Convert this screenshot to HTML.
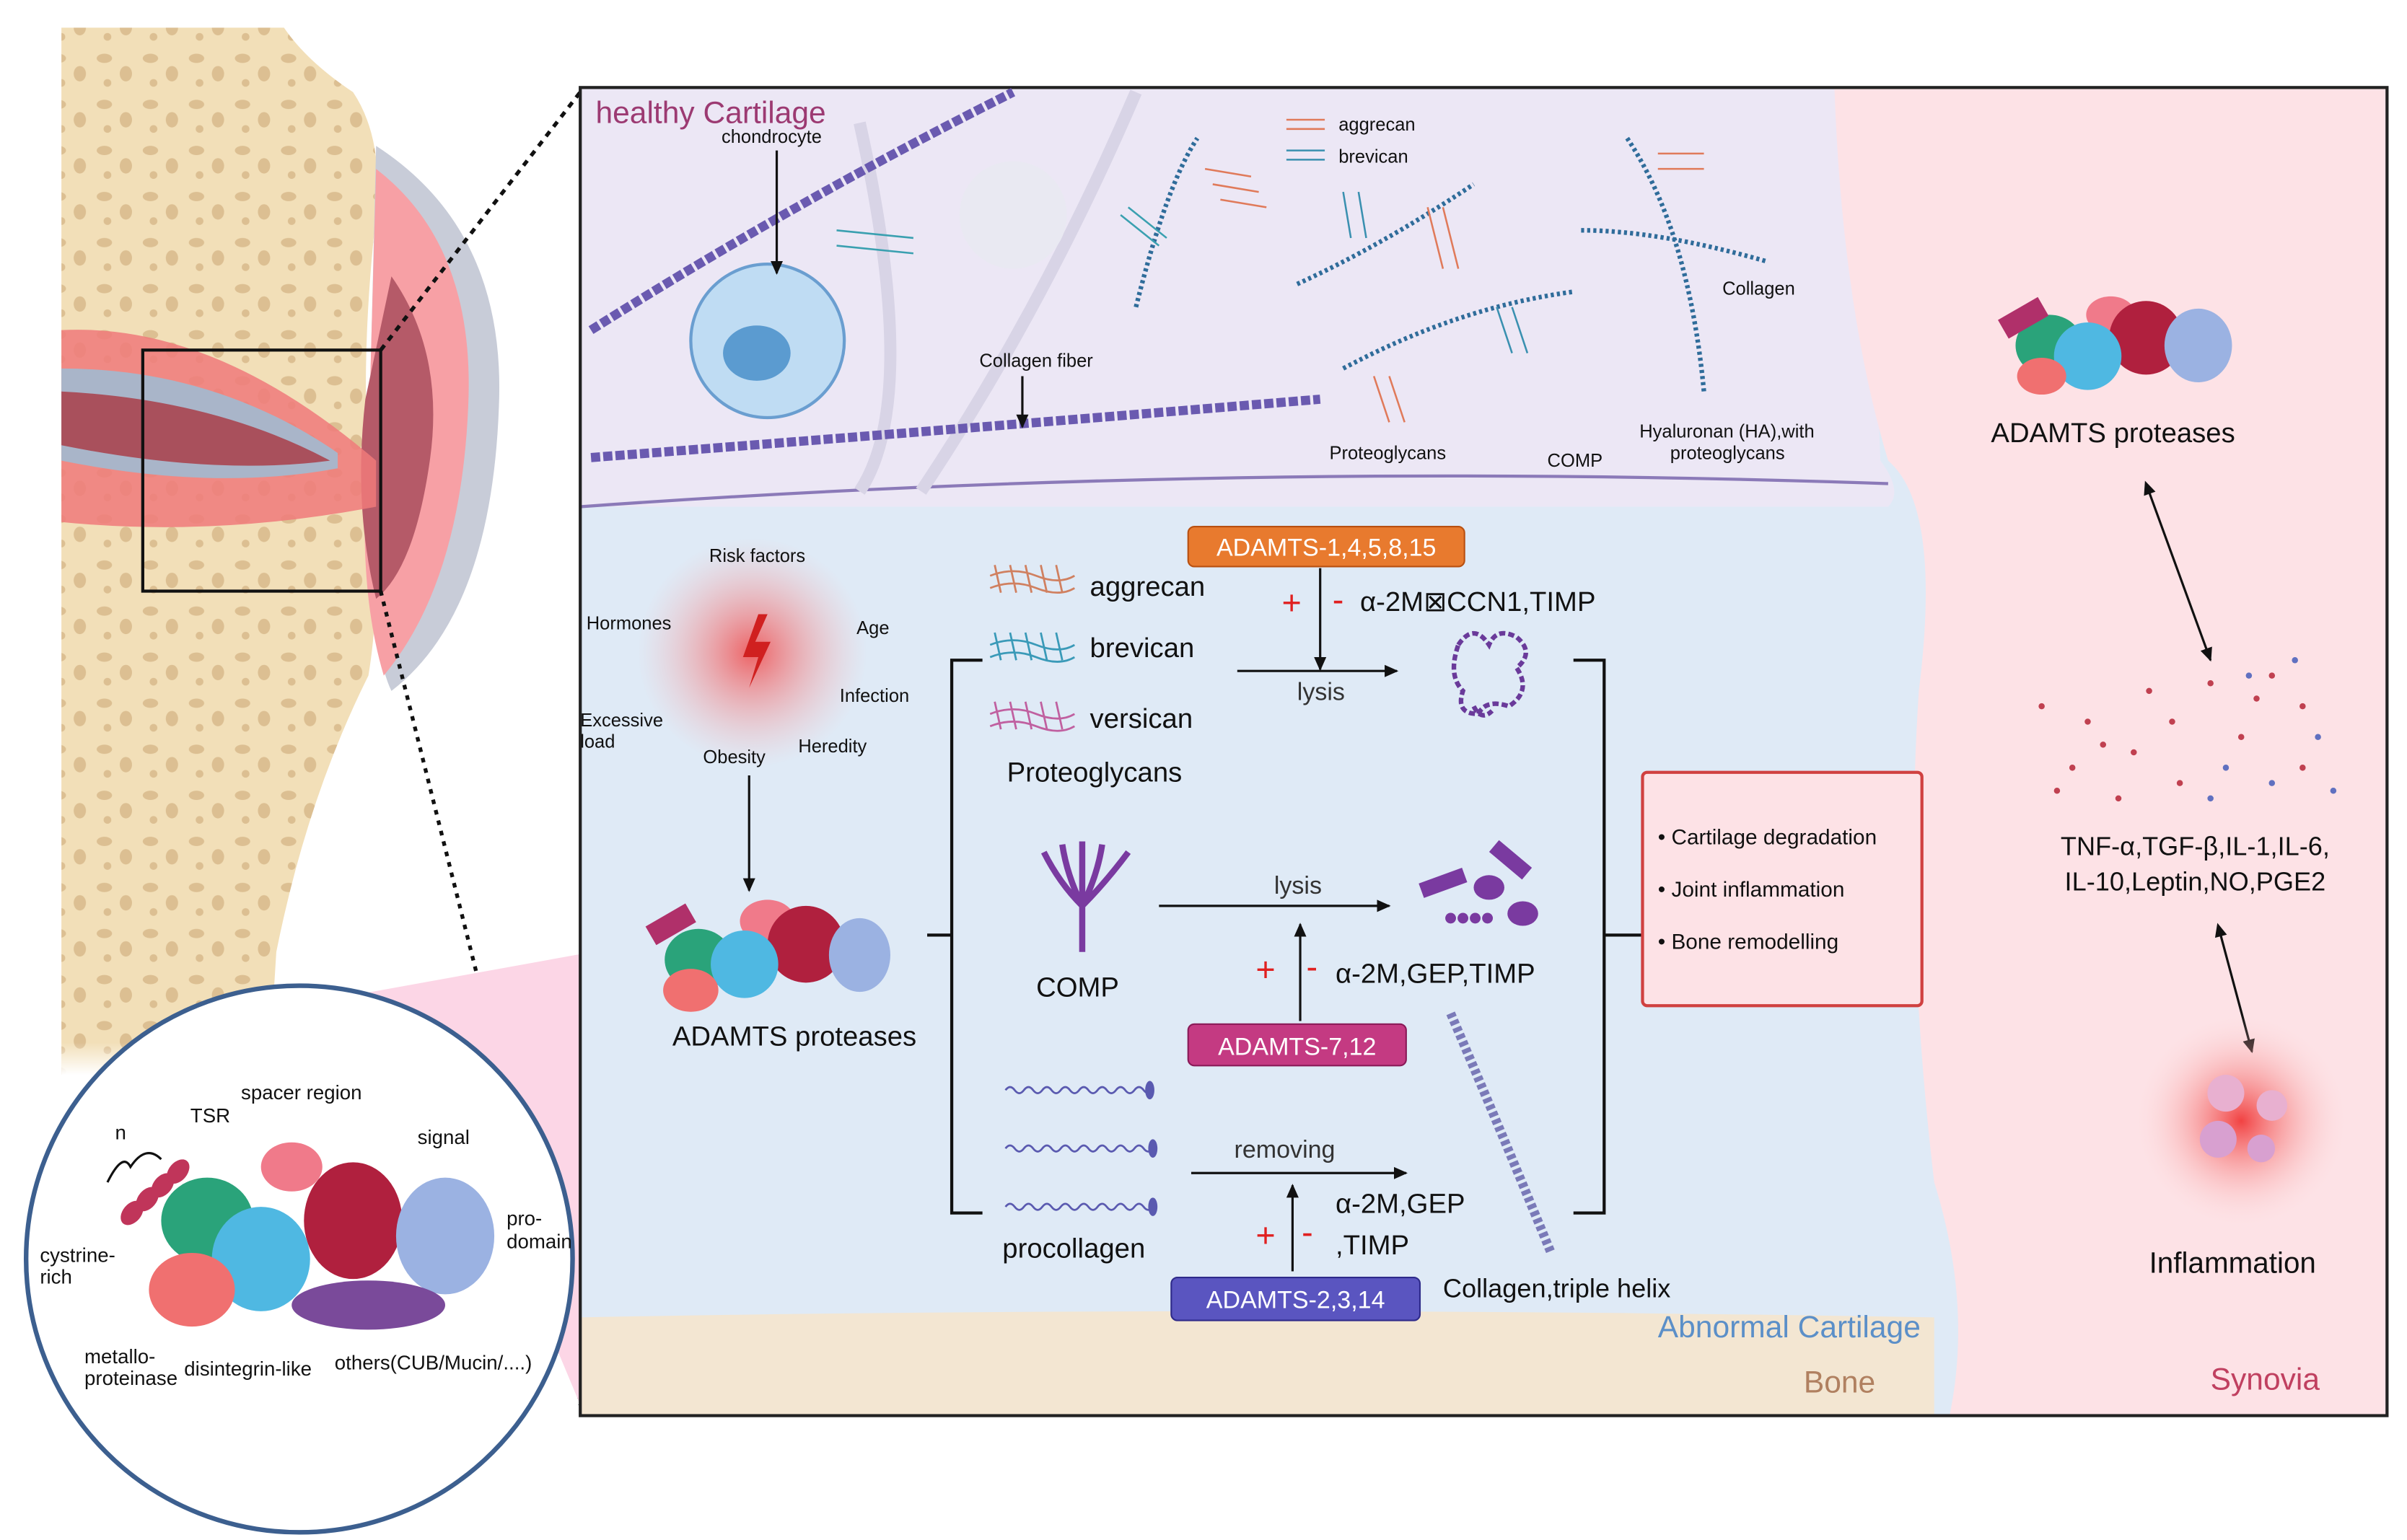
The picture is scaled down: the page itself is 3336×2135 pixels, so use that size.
<!DOCTYPE html>
<html><head><meta charset="utf-8"><style>
html,body{margin:0;padding:0;background:#fff}
svg{display:block}
text{font-family:"Liberation Sans",sans-serif}
</style></head><body>
<svg width="3336" height="2135" viewBox="0 0 1568 1003" preserveAspectRatio="none" xmlns="http://www.w3.org/2000/svg">
<defs>
<radialGradient id="rf" cx="50%" cy="50%" r="50%"><stop offset="0" stop-color="#f04040" stop-opacity="0.8"/><stop offset="1" stop-color="#f8b0b0" stop-opacity="0"/></radialGradient>
<radialGradient id="inf" cx="50%" cy="50%" r="50%"><stop offset="0" stop-color="#f03030" stop-opacity="0.9"/><stop offset="1" stop-color="#fde0e0" stop-opacity="0"/></radialGradient>
<linearGradient id="fade" x1="0" y1="0" x2="0" y2="1"><stop offset="0.85" stop-color="#fff" stop-opacity="0"/><stop offset="1" stop-color="#fff" stop-opacity="1"/></linearGradient>
<pattern id="bone" width="30" height="30" patternUnits="userSpaceOnUse"><rect width="30" height="30" fill="#f2dfb8"/><ellipse cx="8" cy="8" rx="5" ry="3" fill="#dcbf92"/><ellipse cx="22" cy="18" rx="4" ry="5" fill="#dcbf92"/><circle cx="10" cy="24" r="2.5" fill="#dcbf92"/></pattern>
<marker id="ah" markerWidth="10" markerHeight="10" refX="8" refY="5" orient="auto" markerUnits="userSpaceOnUse"><path d="M0 1 L9 5 L0 9 Z" fill="#111"/></marker>
<marker id="as" markerWidth="10" markerHeight="10" refX="2" refY="5" orient="auto" markerUnits="userSpaceOnUse"><path d="M9 1 L0 5 L9 9 Z" fill="#111"/></marker>
</defs>
<!-- left bone -->
<path d="M40 18 L185 18 Q200 40 230 60 Q250 90 245 140 Q235 230 240 300 Q250 380 240 440 Q200 520 180 620 L175 700 L40 700 Z" fill="url(#bone)"/>
<rect x="40" y="560" width="200" height="140" fill="url(#fade)"/>
<path d="M245 95 Q330 150 325 265 Q320 400 255 450 Q240 420 240 300 Z" fill="#c8ccd8"/>
<path d="M245 110 Q310 160 305 265 Q300 380 250 440 Q232 380 240 290 Z" fill="#f7a0a5"/>
<path d="M255 180 Q290 230 280 300 Q270 370 245 390 Q230 330 238 260 Z" fill="#b55a68"/>
<path d="M40 215 Q140 210 245 300 L245 330 Q140 350 40 340 Z" fill="#f07a7a" opacity="0.85"/>
<path d="M40 240 Q140 240 220 295 L220 305 Q140 320 40 300 Z" fill="#a9b5c9"/>
<path d="M40 255 Q140 260 215 300 Q140 310 40 290 Z" fill="#a9505c"/>
<rect x="93" y="228" width="155" height="157" fill="none" stroke="#111" stroke-width="2"/>
<line x1="248" y1="228" x2="378" y2="60" stroke="#111" stroke-width="2.5" stroke-dasharray="4,4"/>
<line x1="248" y1="385" x2="312" y2="640" stroke="#111" stroke-width="2.5" stroke-dasharray="3,4"/>
<line x1="373" y1="880" x2="378" y2="915" stroke="#111" stroke-width="2.5" stroke-dasharray="3,4"/>
<polygon points="220,650 430,612 378,915 330,800" fill="#fcd6e6"/>
<circle cx="195" cy="820" r="178" fill="#fff" stroke="#3c5f8f" stroke-width="3"/>
<g>
<g fill="#c0355a"><ellipse cx="86" cy="790" rx="6" ry="9" transform="rotate(40 86 790)"/><ellipse cx="96" cy="781" rx="6" ry="9" transform="rotate(40 96 781)"/><ellipse cx="106" cy="772" rx="6" ry="9" transform="rotate(40 106 772)"/><ellipse cx="116" cy="763" rx="6" ry="9" transform="rotate(40 116 763)"/></g>
<path d="M70 770 Q80 750 85 760 Q95 745 105 755" fill="none" stroke="#111" stroke-width="1.5"/>
<ellipse cx="135" cy="795" rx="30" ry="28" fill="#2aa37a"/>
<ellipse cx="190" cy="760" rx="20" ry="16" fill="#f07a8a"/>
<ellipse cx="230" cy="795" rx="32" ry="38" fill="#b0203e"/>
<ellipse cx="290" cy="805" rx="32" ry="38" fill="#9bb2e2"/>
<ellipse cx="240" cy="850" rx="50" ry="16" fill="#7a4a9a"/>
<ellipse cx="170" cy="820" rx="32" ry="34" fill="#4fb8e2"/>
<ellipse cx="125" cy="840" rx="28" ry="24" fill="#f07070"/>
</g>
<g font-size="13" fill="#111">
<text x="157" y="716">spacer region</text><text x="124" y="731">TSR</text><text x="272" y="745">signal</text>
<text x="330" y="798">pro-</text><text x="330" y="813">domain</text>
<text x="26" y="822">cystrine-</text><text x="26" y="836">rich</text>
<text x="55" y="888">metallo-</text><text x="55" y="902">proteinase</text><text x="120" y="896">disintegrin-like</text><text x="218" y="892">others(CUB/Mucin/....)</text>
<text x="75" y="742">n</text>
</g>
<!-- main frame regions -->
<rect x="378" y="57" width="1177" height="865" fill="#dfeaf6"/>
<path d="M378 57 L1230 57 Q1220 200 1225 300 Q1240 320 1230 330 L378 330 Z" fill="#ece7f5"/>
<path d="M378 330 Q800 300 1230 315" fill="none" stroke="#8b7ab8" stroke-width="2"/>
<path d="M378 858 Q800 850 1260 858 L1260 922 L378 922 Z" fill="#f3e6d2"/>
<path d="M1195 57 L1555 57 L1555 922 L1270 922 Q1285 850 1260 770 Q1240 600 1250 450 Q1265 330 1230 300 Q1200 200 1195 57 Z" fill="#fde2e6"/>
<rect x="378" y="57" width="1177" height="865" fill="none" stroke="#222" stroke-width="2"/>
<!-- healthy cartilage decorations -->
<path d="M560 80 Q600 260 560 320" stroke="#d8d4e6" stroke-width="8" fill="none"/>
<path d="M600 320 Q680 200 740 60" stroke="#d8d4e6" stroke-width="8" fill="none"/>
<path d="M385 215 Q520 130 660 60" stroke="#6a5ab0" stroke-width="6" stroke-dasharray="6,2" fill="none"/>
<path d="M385 298 Q620 280 860 260" stroke="#6a5ab0" stroke-width="6" stroke-dasharray="6,2" fill="none"/>
<circle cx="500" cy="222" r="50" fill="#bfdcf3" stroke="#6a9ed0" stroke-width="2"/>
<ellipse cx="493" cy="230" rx="22" ry="18" fill="#5b9bd0"/>
<circle cx="660" cy="140" r="35" fill="#e9e9f2"/>
<path d="M740 200 Q760 120 780 90" stroke="#2f6c9a" stroke-width="3" stroke-dasharray="2,2" fill="none"/>
<path d="M845 185 Q900 160 960 120" stroke="#2f6c9a" stroke-width="3" stroke-dasharray="2,2" fill="none"/>
<path d="M875 240 Q950 200 1025 190" stroke="#2f6c9a" stroke-width="3" stroke-dasharray="2,2" fill="none"/>
<path d="M1060 90 Q1100 150 1110 255 M1030 150 Q1080 150 1150 170" stroke="#2f6c9a" stroke-width="3" stroke-dasharray="2,2" fill="none"/>
<g stroke-width="1.2" fill="none">
<path d="M785 110 l30 5 M790 120 l30 5 M795 130 l30 5" stroke="#e07a5a"/>
<path d="M730 140 l25 20 M735 135 l25 20" stroke="#3aa0b0"/>
<path d="M930 135 l10 40 M940 135 l10 40" stroke="#e07a5a"/>
<path d="M875 125 l5 30 M885 125 l5 30" stroke="#3a90b0"/>
<path d="M1080 100 l30 0 M1080 110 l30 0" stroke="#e07a5a"/>
<path d="M975 200 l10 30 M985 200 l10 30" stroke="#3a90b0"/>
<path d="M895 245 l10 30 M905 245 l10 30" stroke="#e07a5a"/>
<path d="M545 150 l50 5 M545 160 l50 5" stroke="#3aa0b0"/>
<path d="M838 78 l25 0 M838 84 l25 0" stroke="#e07a5a"/><path d="M838 98 l25 0 M838 104 l25 0" stroke="#3a90b0"/>
</g>
<text x="388" y="80" font-size="20" fill="#9c3a72">healthy Cartilage</text>
<g font-size="12" fill="#111">
<text x="470" y="93">chondrocyte</text><text x="638" y="239">Collagen fiber</text>
<text x="872" y="85">aggrecan</text><text x="872" y="106">brevican</text>
<text x="1122" y="192">Collagen</text><text x="866" y="299">Proteoglycans</text><text x="1008" y="304">COMP</text>
<text x="1068" y="285">Hyaluronan (HA),with</text><text x="1088" y="299">proteoglycans</text>
</g>
<line x1="506" y1="98" x2="506" y2="178" stroke="#111" stroke-width="1.5" marker-end="url(#ah)"/>
<line x1="666" y1="245" x2="666" y2="278" stroke="#111" stroke-width="1.5" marker-end="url(#ah)"/>
<!-- risk factors -->
<circle cx="490" cy="425" r="75" fill="url(#rf)"/>
<polygon points="494,400 484,428 494,428 488,448 502,418 492,418 500,400" fill="#d02020"/>
<g font-size="12" fill="#111">
<text x="462" y="366">Risk factors</text><text x="382" y="410">Hormones</text><text x="558" y="413">Age</text>
<text x="547" y="457">Infection</text><text x="378" y="473">Excessive</text><text x="378" y="487">load</text>
<text x="458" y="497">Obesity</text><text x="520" y="490">Heredity</text>
</g>
<line x1="488" y1="505" x2="488" y2="580" stroke="#111" stroke-width="1.5" marker-end="url(#ah)"/>
<g>
<g fill="#b0306a"><rect x="422" y="595" width="30" height="14" transform="rotate(-30 437 602)"/></g>
<ellipse cx="455" cy="625" rx="22" ry="20" fill="#2aa37a"/><ellipse cx="500" cy="600" rx="18" ry="14" fill="#f07a8a"/>
<ellipse cx="525" cy="615" rx="25" ry="25" fill="#b0203e"/><ellipse cx="560" cy="622" rx="20" ry="24" fill="#9bb2e2"/>
<ellipse cx="485" cy="628" rx="22" ry="22" fill="#4fb8e2"/><ellipse cx="450" cy="645" rx="18" ry="14" fill="#f07070"/>
</g>
<text x="438" y="681" font-size="18" fill="#111">ADAMTS proteases</text>
<polyline points="640,430 620,430 620,790 640,790" fill="none" stroke="#111" stroke-width="2"/>
<line x1="604" y1="609" x2="620" y2="609" stroke="#111" stroke-width="2"/>
<polyline points="1025,430 1045,430 1045,790 1025,790" fill="none" stroke="#111" stroke-width="2"/>
<line x1="1045" y1="609" x2="1070" y2="609" stroke="#111" stroke-width="2"/>
<!-- proteoglycan icons -->
<g stroke-width="1.3" fill="none">
<path d="M645 375 q15 -6 30 0 t25 0 M645 383 q15 -6 30 0 t25 0 M648 368 l4 18 M658 368 l4 18 M668 368 l4 18 M678 368 l4 18 M688 368 l4 18" stroke="#d08060"/>
<path d="M645 420 q15 -6 30 0 t25 0 M645 428 q15 -6 30 0 t25 0 M648 412 l4 18 M658 412 l4 18 M668 412 l4 18 M678 412 l4 18 M688 412 l4 18" stroke="#3a9ab8"/>
<path d="M645 465 q15 -6 30 0 t25 0 M645 473 q15 -6 30 0 t25 0 M648 457 l4 18 M658 457 l4 18 M668 457 l4 18 M678 457 l4 18 M688 457 l4 18" stroke="#c060a0"/>
</g>
<g font-size="18" fill="#111"><text x="710" y="388">aggrecan</text><text x="710" y="428">brevican</text><text x="710" y="474">versican</text><text x="656" y="509">Proteoglycans</text></g>
<rect x="774" y="343" width="180" height="26" rx="4" fill="#e87a2e" stroke="#b85010"/>
<text x="864" y="362" font-size="16" fill="#fff" text-anchor="middle" font-family="Liberation Serif">ADAMTS-1,4,5,8,15</text>
<line x1="860" y1="370" x2="860" y2="436" stroke="#111" stroke-width="1.5" marker-end="url(#ah)"/>
<line x1="806" y1="437" x2="910" y2="437" stroke="#111" stroke-width="1.5" marker-end="url(#ah)"/>
<text x="845" y="456" font-size="16" fill="#333">lysis</text>
<text x="835" y="400" font-size="22" fill="#e02020">+</text><text x="868" y="398" font-size="22" fill="#e02020">-</text>
<text x="886" y="398" font-size="18" fill="#111">α-2M⊠CCN1,TIMP</text>
<path d="M950 420 q10 -15 20 0 q5 -12 18 -5 q12 10 0 20 q10 15 -5 25 q-15 -5 -20 5 q-15 0 -10 -15 q-10 -10 -3 -30 M960 460 q5 10 12 3" fill="none" stroke="#6a3a9a" stroke-width="3" stroke-dasharray="4,2"/>
<!-- COMP -->
<g stroke="#7a3aa0" stroke-width="4" fill="none"><path d="M705 620 L705 590 M705 590 Q690 575 680 555 M705 590 Q695 570 692 550 M705 590 L705 548 M705 590 Q715 570 718 550 M705 590 Q720 575 735 555"/></g>
<text x="675" y="649" font-size="18" fill="#111">COMP</text>
<line x1="755" y1="590" x2="905" y2="590" stroke="#111" stroke-width="1.5" marker-end="url(#ah)"/>
<text x="830" y="582" font-size="16" fill="#333">lysis</text>
<line x1="847" y1="665" x2="847" y2="602" stroke="#111" stroke-width="1.5" marker-end="url(#ah)"/>
<text x="818" y="639" font-size="22" fill="#e02020">+</text><text x="851" y="637" font-size="22" fill="#e02020">-</text>
<text x="870" y="640" font-size="18" fill="#111">α-2M,GEP,TIMP</text>
<g fill="#7a3aa0"><rect x="925" y="570" width="30" height="10" transform="rotate(-20 940 575)"/><ellipse cx="970" cy="578" rx="10" ry="8"/><ellipse cx="992" cy="595" rx="10" ry="8"/><rect x="970" y="555" width="28" height="10" transform="rotate(40 984 560)"/><circle cx="945" cy="598" r="3.5"/><circle cx="953" cy="598" r="3.5"/><circle cx="961" cy="598" r="3.5"/><circle cx="969" cy="598" r="3.5"/></g>
<rect x="774" y="667" width="142" height="27" rx="4" fill="#c43a82" stroke="#8a1a58"/>
<text x="845" y="687" font-size="16" fill="#fff" text-anchor="middle" font-family="Liberation Serif">ADAMTS-7,12</text>
<!-- procollagen -->
<g stroke="#5a5ab0" stroke-width="1.3" fill="none">
<path d="M655 710 q3 -4 6 0 t6 0 t6 0 t6 0 t6 0 t6 0 t6 0 t6 0 t6 0 t6 0 t6 0 t6 0 t6 0 t6 0 t6 0 t6 0"/>
<path d="M655 748 q3 -4 6 0 t6 0 t6 0 t6 0 t6 0 t6 0 t6 0 t6 0 t6 0 t6 0 t6 0 t6 0 t6 0 t6 0 t6 0 t6 0"/>
<path d="M655 786 q3 -4 6 0 t6 0 t6 0 t6 0 t6 0 t6 0 t6 0 t6 0 t6 0 t6 0 t6 0 t6 0 t6 0 t6 0 t6 0 t6 0"/>
</g>
<g fill="#5a5ab0"><ellipse cx="749" cy="710" rx="3" ry="6"/><ellipse cx="751" cy="748" rx="3" ry="6"/><ellipse cx="751" cy="786" rx="3" ry="6"/></g>
<text x="653" y="819" font-size="18" fill="#111">procollagen</text>
<line x1="776" y1="764" x2="916" y2="764" stroke="#111" stroke-width="1.5" marker-end="url(#ah)"/>
<text x="804" y="754" font-size="16" fill="#333">removing</text>
<line x1="842" y1="828" x2="842" y2="772" stroke="#111" stroke-width="1.5" marker-end="url(#ah)"/>
<text x="818" y="812" font-size="22" fill="#e02020">+</text><text x="848" y="810" font-size="22" fill="#e02020">-</text>
<text x="870" y="790" font-size="18" fill="#111">α-2M,GEP</text><text x="870" y="817" font-size="18" fill="#111">,TIMP</text>
<rect x="763" y="832" width="162" height="28" rx="4" fill="#5a55c0" stroke="#2e2a8a"/>
<text x="844" y="852" font-size="16" fill="#fff" text-anchor="middle" font-family="Liberation Serif">ADAMTS-2,3,14</text>
<text x="940" y="845" font-size="17" fill="#111">Collagen,triple helix</text>
<path d="M945 660 Q975 730 1010 815" stroke="#7a7ab8" stroke-width="6" stroke-dasharray="3,2" fill="none"/>
<rect x="1070" y="503" width="182" height="152" rx="3" fill="#fde2e6" stroke="#d04040" stroke-width="2"/>
<g font-size="14" fill="#111"><text x="1080" y="550">• Cartilage degradation</text><text x="1080" y="584">• Joint inflammation</text><text x="1080" y="618">• Bone remodelling</text></g>
<text x="1080" y="871" font-size="20" fill="#5b8fc8">Abnormal Cartilage</text>
<text x="1175" y="907" font-size="20" fill="#b08060">Bone</text>
<text x="1440" y="905" font-size="20" fill="#c04060">Synovia</text>
<g>
<ellipse cx="1335" cy="225" rx="22" ry="20" fill="#2aa37a"/><ellipse cx="1375" cy="205" rx="16" ry="12" fill="#f07a8a"/>
<ellipse cx="1398" cy="220" rx="24" ry="24" fill="#b0203e"/><ellipse cx="1432" cy="225" rx="22" ry="24" fill="#9bb2e2"/>
<ellipse cx="1360" cy="232" rx="22" ry="22" fill="#4fb8e2"/><ellipse cx="1330" cy="245" rx="16" ry="12" fill="#f07070"/>
<rect x="1303" y="200" width="30" height="14" fill="#b0306a" transform="rotate(-30 1318 207)"/>
</g>
<text x="1297" y="288" font-size="18" fill="#111">ADAMTS proteases</text>
<line x1="1398" y1="315" x2="1440" y2="430" stroke="#111" stroke-width="1.5" marker-start="url(#as)" marker-end="url(#ah)"/>
<g fill="#c04050"><circle cx="1330" cy="460" r="2"/><circle cx="1360" cy="470" r="2"/><circle cx="1400" cy="450" r="2"/><circle cx="1440" cy="445" r="2"/><circle cx="1480" cy="440" r="2"/><circle cx="1500" cy="460" r="2"/><circle cx="1350" cy="500" r="2"/><circle cx="1390" cy="490" r="2"/><circle cx="1420" cy="510" r="2"/><circle cx="1460" cy="480" r="2"/><circle cx="1500" cy="500" r="2"/><circle cx="1380" cy="520" r="2"/><circle cx="1415" cy="470" r="2"/><circle cx="1370" cy="485" r="2"/><circle cx="1340" cy="515" r="2"/><circle cx="1470" cy="455" r="2"/></g>
<g fill="#6070c0"><circle cx="1450" cy="500" r="2"/><circle cx="1480" cy="510" r="2"/><circle cx="1510" cy="480" r="2"/><circle cx="1440" cy="520" r="2"/><circle cx="1520" cy="515" r="2"/><circle cx="1495" cy="430" r="2"/><circle cx="1465" cy="440" r="2"/></g>
<text x="1430" y="557" font-size="17" fill="#111" text-anchor="middle">TNF-α,TGF-β,IL-1,IL-6,</text>
<text x="1430" y="580" font-size="17" fill="#111" text-anchor="middle">IL-10,Leptin,NO,PGE2</text>
<line x1="1445" y1="603" x2="1467" y2="685" stroke="#111" stroke-width="1.5" marker-start="url(#as)" marker-end="url(#ah)"/>
<circle cx="1460" cy="730" r="70" fill="url(#inf)"/>
<circle cx="1450" cy="712" r="12" fill="#e8b0d0"/><circle cx="1480" cy="720" r="10" fill="#e8b0d0"/><circle cx="1445" cy="742" r="12" fill="#d8a0d0"/><circle cx="1473" cy="748" r="9" fill="#d8a0d0"/>
<text x="1400" y="829" font-size="19" fill="#111">Inflammation</text>
</svg>
</body></html>
